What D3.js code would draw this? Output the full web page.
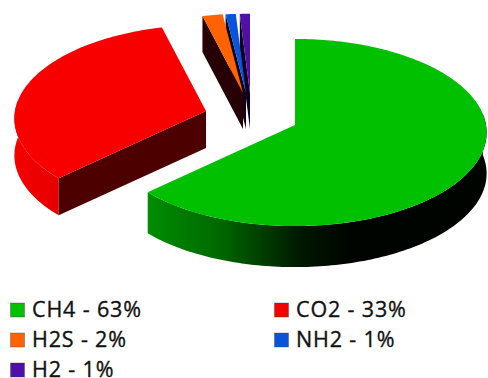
<!DOCTYPE html>
<html>
<head>
<meta charset="utf-8">
<script src="https://cdnjs.cloudflare.com/ajax/libs/d3/7.8.5/d3.min.js"></script>
<style>
html,body{margin:0;padding:0;background:#fff;}
svg{display:block;}
text{font-family:"Open Sans",sans-serif;font-size:21.5px;letter-spacing:0.85px;fill:#111;stroke:#111;stroke-width:0.35px;}
</style>
</head>
<body>
<svg id="chart" width="488" height="378"></svg>
<script>
// Biogas composition
const gases = ["CH4", "CO2", "H2S", "NH2", "H2"];
const shares = [63, 33, 2, 1, 1];

// Appearance of each slice
const topColors = ["#00c000", "#f80000", "#ff6200", "#0a54dc", "#5010a8"];
const apexX = [295, 206, 243, 246, 250];
const apexY = [125, 111, 93, 93, 93];
const radiusScale = [1, 1, 0.92, 0.92, 0.92];
const depths = [41, 37, 36, 36, 36];

// Legend layout
const legendX = [10, 274, 10, 274, 10];
const legendY = [318, 318, 348, 348, 378];

// Flattened disc with a little perspective: the far rim is closer to the centre
const RX = 191, RY = 93, PERSPECTIVE = 0.08;

const svg = d3.select("#chart");
const defs = svg.append("defs");

function wallGradient(id, x1, x2, stops) {
  const g = defs.append("linearGradient").attr("id", id)
    .attr("gradientUnits", "userSpaceOnUse")
    .attr("x1", x1).attr("x2", x2).attr("y1", 0).attr("y2", 0);
  stops.forEach(s => g.append("stop").attr("offset", s[0]).attr("stop-color", s[1]));
}
wallGradient("wallGreen", 150, 350, [[0, "#008c00"], [0.35, "#006800"], [0.75, "#001800"], [1, "#000400"]]);
wallGradient("wallRedRim", 14, 57, [[0, "#f40000"], [1, "#e60000"]]);

const arcs = d3.pie().value(d => d).sort(null).startAngle(0).endAngle(2 * Math.PI)(shares);

function rimPoint(i, angle, drop) {
  const s = 1 / (1 + PERSPECTIVE * Math.cos(angle));
  return [
    apexX[i] + RX * radiusScale[i] * Math.sin(angle) * s,
    apexY[i] - RY * radiusScale[i] * Math.cos(angle) * s + drop
  ];
}
function rimSamples(i, a0, a1, drop) {
  const n = Math.max(2, Math.ceil(Math.abs(a1 - a0) / 0.02));
  return d3.range(n + 1).map(k => rimPoint(i, a0 + (a1 - a0) * k / n, drop));
}
const polygon = d3.line().curve(d3.curveLinearClosed);

// Outer wall: only the part of the rim facing the viewer
function drawRimWall(group, i, fill) {
  const a0 = Math.max(arcs[i].startAngle, Math.PI / 2 - 0.12);
  const a1 = Math.min(arcs[i].endAngle, 3 * Math.PI / 2 + 0.12);
  if (a1 <= a0) return;
  const pts = rimSamples(i, a0, a1, 0).concat(rimSamples(i, a1, a0, depths[i]));
  group.append("path").attr("d", polygon(pts)).attr("fill", fill);
}
// Radial wall from the apex out to the rim at a given angle
function drawCutWall(group, i, angle, fill) {
  const rim = rimPoint(i, angle, 0), rimLow = rimPoint(i, angle, depths[i]);
  const pts = [[apexX[i], apexY[i]], rim, rimLow, [apexX[i], apexY[i] + depths[i]]];
  group.append("path").attr("d", polygon(pts)).attr("fill", fill);
}
function drawTop(group, i) {
  const pts = [[apexX[i], apexY[i]]].concat(rimSamples(i, arcs[i].startAngle, arcs[i].endAngle, 0));
  group.append("path").attr("d", polygon(pts)).attr("fill", topColors[i]);
}

const pieGroup = svg.append("g");

// Red slice
drawRimWall(pieGroup, 1, "url(#wallRedRim)");
drawCutWall(pieGroup, 1, arcs[1].startAngle, "#4c0000");
drawTop(pieGroup, 1);

// Thin slices, far one first
[4, 3, 2].forEach(i => {
  drawCutWall(pieGroup, i, arcs[i].startAngle, i === 2 ? "#260004" : "#10001c");
  drawTop(pieGroup, i);
});

// Green slice
drawCutWall(pieGroup, 0, 0, "#000");
drawRimWall(pieGroup, 0, "url(#wallGreen)");
drawTop(pieGroup, 0);

// Legend
const legend = svg.append("g").selectAll("g").data(gases).join("g")
  .attr("transform", (d, i) => `translate(${legendX[i]},${legendY[i]})`);
legend.append("rect").attr("x", 0.5).attr("y", -15).attr("width", 14).attr("height", 14)
  .attr("fill", (d, i) => topColors[i])
  .attr("stroke", "#333").attr("stroke-opacity", 0.35);
legend.append("text").attr("x", 22).attr("y", -1)
  .text((d, i) => `${d} - ${shares[i]}%`);
</script>
</body>
</html>
